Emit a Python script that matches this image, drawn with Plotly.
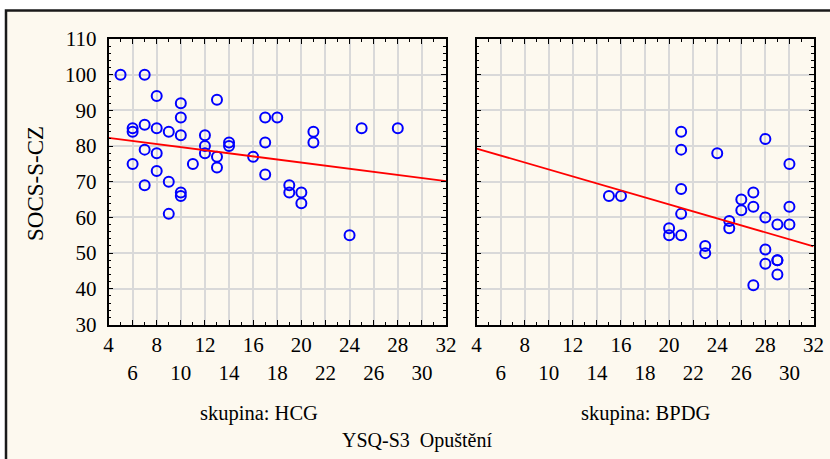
import plotly.graph_objects as go

# ---- data ----
hcg_x = [5, 7, 8, 10, 13, 10, 17, 18, 6, 6, 7, 8, 9, 10, 12, 12, 12, 14, 14, 16, 17, 13, 13,
         7, 8, 6, 11, 8, 9, 7, 17, 10, 10, 9, 19, 19, 21, 21, 20, 20, 25, 28, 24]
hcg_y = [100, 100, 94, 92, 93, 88, 88, 88, 85, 84, 86, 85, 84, 83, 83, 80, 78, 81, 80, 77, 81, 77, 74,
         79, 78, 75, 75, 73, 70, 69, 72, 67, 66, 61, 69, 67, 84, 81, 67, 64, 85, 85, 55]

bpdg_x = [15, 16, 21, 21, 24, 21, 21, 20, 20, 21, 23, 23, 25, 25, 26, 26, 28, 30, 27, 27,
          30, 28, 29, 30, 28, 28, 29, 29, 29, 27]
bpdg_y = [66, 66, 84, 79, 78, 68, 61, 57, 55, 55, 52, 50, 59, 57, 65, 62, 82, 75, 67, 63,
          63, 60, 58, 58, 51, 47, 48, 48, 44, 41]

fit_x = [4, 32]
hcg_fit_y = [82.3, 70.2]
bpdg_fit_y = [79.3, 51.9]

x_ticks = list(range(4, 33, 2))
x_tick_labels = [str(v) if (v - 4) % 4 == 0 else "<br>" + str(v) for v in x_ticks]
y_ticks = list(range(30, 111, 10))
y_tick_labels = [str(v) for v in y_ticks]

group_labels = ["skupina: HCG", "skupina: BPDG"]
x_title = "YSQ-S3\u00a0 Opušt\u011bní"
y_title = "SOCS-S-CZ"

# ---- styling / layout ----
W, H = 830, 459
FONT = "Liberation Serif, Times New Roman, Times, serif"
CREAM = "#fdf9ef"
GRID = "#d9d9d9"
BLUE = "#0000ff"
RED = "#ff0000"

def px_x(p):
    return p / W

def px_y(p):
    return 1 - p / H

ydom = [px_y(324.5), px_y(39)]
left_dom = [px_x(108.5), px_x(446)]
right_dom = [px_x(476.6), px_x(813.5)]

fig = go.Figure()
marker = dict(symbol="circle-open", size=10, color=BLUE, line=dict(width=2, color=BLUE))
fig.add_trace(go.Scatter(x=hcg_x, y=hcg_y, mode="markers", marker=marker,
                         xaxis="x", yaxis="y", showlegend=False, cliponaxis=False))
fig.add_trace(go.Scatter(x=fit_x, y=hcg_fit_y, mode="lines", line=dict(color=RED, width=1.8),
                         xaxis="x", yaxis="y", showlegend=False))
fig.add_trace(go.Scatter(x=bpdg_x, y=bpdg_y, mode="markers", marker=marker,
                         xaxis="x2", yaxis="y2", showlegend=False, cliponaxis=False))
fig.add_trace(go.Scatter(x=fit_x, y=bpdg_fit_y, mode="lines", line=dict(color=RED, width=1.8),
                         xaxis="x2", yaxis="y2", showlegend=False))

tickfont = dict(family=FONT, size=21, color="black")

def xaxis(dom, anchor):
    return dict(domain=dom, anchor=anchor, range=[4, 32], tickmode="array",
                tickvals=x_ticks, ticktext=x_tick_labels, ticks="inside", ticklen=5,
                tickwidth=1, tickcolor="black",
                minor=dict(ticks="inside", ticklen=3, dtick=1, tick0=4, tickcolor="black",
                           showgrid=False),
                showgrid=True, gridcolor=GRID, gridwidth=1.5,
                showline=True, linecolor="black", linewidth=1.5, mirror="ticks",
                zeroline=False, tickfont=tickfont, ticklabelstandoff=1, fixedrange=True,
                automargin=False)

def yaxis(anchor, labels):
    return dict(domain=ydom, anchor=anchor, range=[30, 110], tickmode="array",
                tickvals=y_ticks, ticktext=y_tick_labels, showticklabels=labels,
                ticks="inside", ticklen=5, tickwidth=1, tickcolor="black",
                minor=dict(ticks="inside", ticklen=3, dtick=2, tick0=30, tickcolor="black",
                           showgrid=False),
                showgrid=True, gridcolor=GRID, gridwidth=1.5,
                showline=True, linecolor="black", linewidth=1.5, mirror="ticks",
                zeroline=False, tickfont=tickfont, ticklabelstandoff=6, fixedrange=True,
                automargin=False)

fig.update_layout(
    template="none",
    width=W, height=H, autosize=False,
    margin=dict(l=0, r=0, t=0, b=0, pad=0, autoexpand=False),
    paper_bgcolor="white", plot_bgcolor="white",
    font=dict(family=FONT, size=20, color="black"),
    xaxis=xaxis(left_dom, "y"),
    yaxis=yaxis("x", True),
    xaxis2=xaxis(right_dom, "y2"),
    yaxis2=yaxis("x2", False),
    shapes=[dict(type="rect", xref="paper", yref="paper", layer="below",
                 x0=px_x(6), x1=1.05, y0=-0.05, y1=px_y(10.5),
                 fillcolor=CREAM, line=dict(color="#1a1a1a", width=2.5))],
    annotations=[
        dict(text=group_labels[0], xref="paper", yref="paper", x=px_x(259), y=px_y(413),
             showarrow=False, xanchor="center", yanchor="middle", font=dict(size=20.5)),
        dict(text=group_labels[1], xref="paper", yref="paper", x=px_x(645), y=px_y(413),
             showarrow=False, xanchor="center", yanchor="middle", font=dict(size=20.5)),
        dict(text=x_title, xref="paper", yref="paper", x=px_x(417), y=px_y(440),
             showarrow=False, xanchor="center", yanchor="middle", font=dict(size=20)),
        dict(text=y_title, xref="paper", yref="paper", x=px_x(35), y=px_y(184),
             showarrow=False, xanchor="center", yanchor="middle", textangle=-90,
             font=dict(size=23)),
    ],
)

fig.write_html(
    "out.html",
    config={"displayModeBar": False},
    post_script="document.body.style.margin='0';document.body.style.overflow='hidden';",
)
